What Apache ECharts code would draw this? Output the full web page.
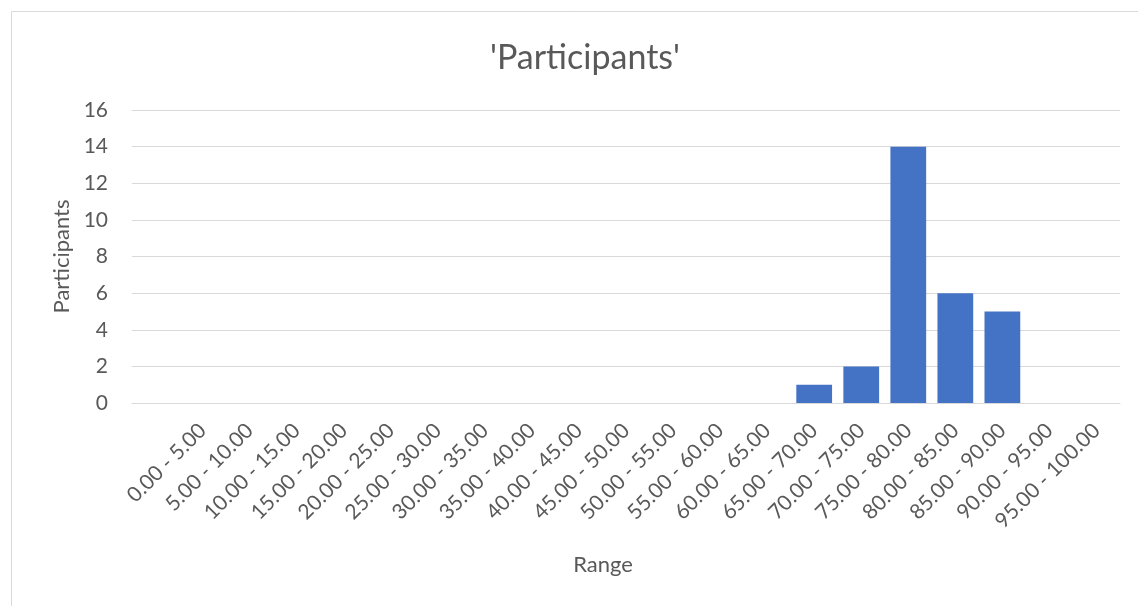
<!DOCTYPE html>
<html>
<head>
<meta charset="utf-8">
<script src="https://cdn.jsdelivr.net/npm/echarts@6/dist/echarts.min.js"></script>
<style>
html,body{margin:0;padding:0;background:#fff;}
#chart{width:1138px;height:606px;}
</style>
</head>
<body>
<div id="chart"></div>
<script>
const categories = ['', '0.00 - 5.00', '5.00 - 10.00', '10.00 - 15.00', '15.00 - 20.00', '20.00 - 25.00',
  '25.00 - 30.00', '30.00 - 35.00', '35.00 - 40.00', '40.00 - 45.00', '45.00 - 50.00',
  '50.00 - 55.00', '55.00 - 60.00', '60.00 - 65.00', '65.00 - 70.00', '70.00 - 75.00',
  '75.00 - 80.00', '80.00 - 85.00', '85.00 - 90.00', '90.00 - 95.00', '95.00 - 100.00'];
const participants = [0, 0, 0, 0, 0, 0, 0, 0, 0, 0, 0, 0, 0, 0, 1, 2, 14, 6, 5, 0, 0];
const titleText = "'Participants'";
const xName = 'Range';
const yName = 'Participants';

const FONT = 'Lato';
const TXT = '#595959';
const chart = echarts.init(document.getElementById('chart'), null, {renderer: 'canvas'});
chart.setOption({
  animation: false,
  backgroundColor: '#ffffff',
  textStyle: {fontFamily: FONT},
  graphic: [{
    type: 'rect', silent: true,
    shape: {x: 11.5, y: 11.5, width: 1300, height: 800},
    style: {fill: 'none', stroke: '#d9d9d9', lineWidth: 1}
  }],
  title: {
    text: titleText, left: 580, top: 36, textAlign: 'center',
    textStyle: {fontFamily: FONT, fontSize: 34, fontWeight: 'normal', color: TXT}
  },
  grid: {left: 132, right: 18, top: 110, bottom: 203, containLabel: false},
  xAxis: {
    type: 'category', data: categories,
    name: xName, nameLocation: 'middle', nameGap: 151,
    nameTextStyle: {fontFamily: FONT, fontSize: 22, color: TXT, padding: [0, 46, 0, 0]},
    axisLine: {show: true, lineStyle: {color: '#d9d9d9', width: 1}},
    axisTick: {show: false},
    axisLabel: {interval: 0, rotate: 45, margin: 24, fontFamily: FONT, fontSize: 21, color: TXT}
  },
  yAxis: {
    type: 'value', min: 0, max: 16, interval: 2,
    name: yName, nameLocation: 'middle', nameGap: 59,
    nameTextStyle: {fontFamily: FONT, fontSize: 22, color: TXT},
    axisLine: {show: false}, axisTick: {show: false},
    axisLabel: {margin: 24, fontFamily: FONT, fontSize: 21, color: TXT},
    splitLine: {lineStyle: {color: '#d9d9d9', width: 1}}
  },
  series: [{
    type: 'bar', data: participants, barCategoryGap: '24%',
    itemStyle: {color: '#4472c4'}
  }]
});
</script>
</body>
</html>
